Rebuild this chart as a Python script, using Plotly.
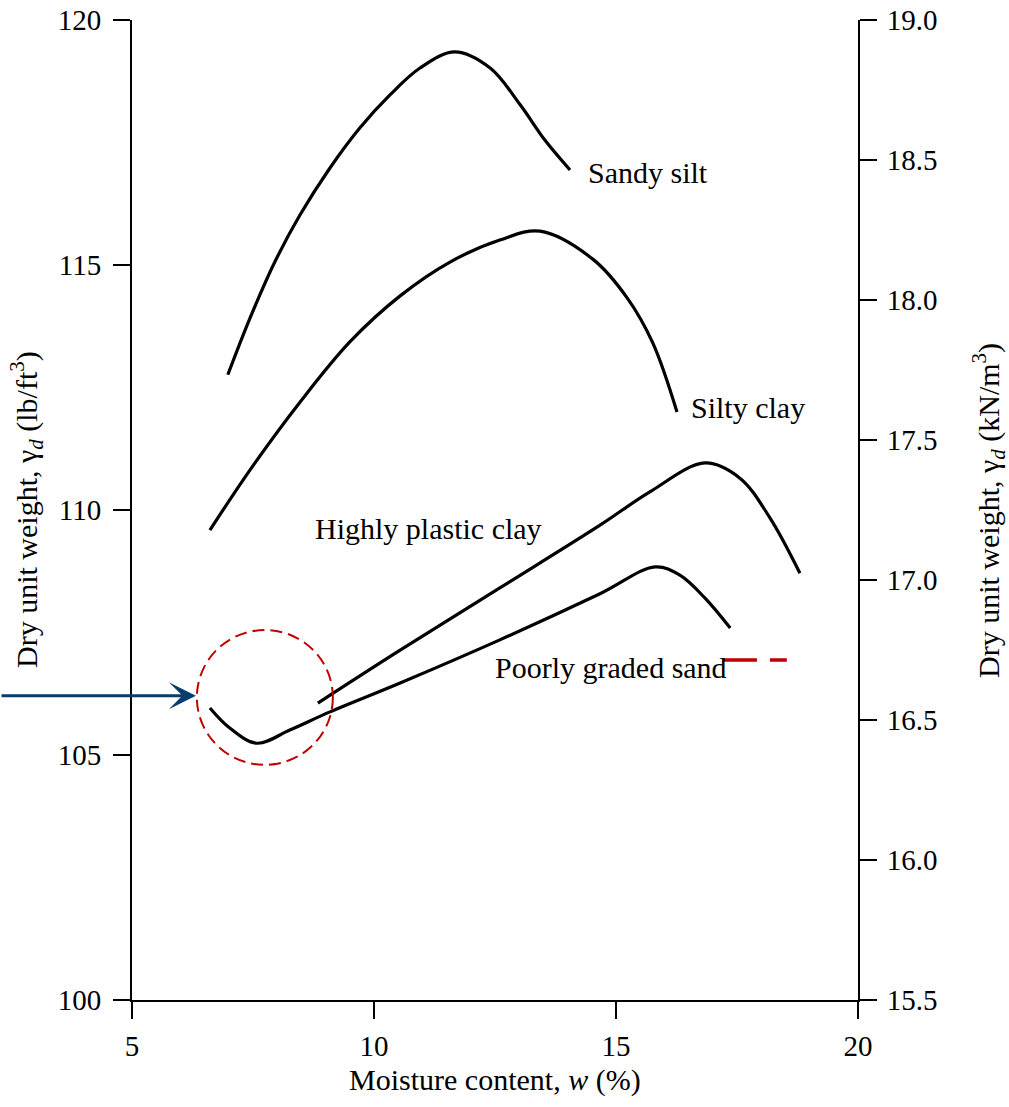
import plotly.graph_objects as go

# ---- Data ----
sandy_silt_w = [6.98, 7.44, 7.95, 8.47, 9.09, 9.71, 10.33, 10.95, 11.67, 12.40, 13.02, 13.53, 14.05]
sandy_silt_g = [112.76, 113.92, 115.06, 116.02, 116.98, 117.80, 118.47, 119.02, 119.35, 119.02, 118.27, 117.55, 116.94]

silty_clay_w = [6.61, 7.44, 8.47, 9.50, 10.54, 11.57, 12.60, 13.43, 14.52, 15.23, 15.76, 16.26]
silty_clay_g = [109.59, 110.82, 112.20, 113.43, 114.37, 115.06, 115.51, 115.69, 115.12, 114.33, 113.41, 112.00]

hp_clay_w = [8.84, 10.54, 12.60, 14.67, 15.70, 16.84, 17.56, 18.18, 18.80]
hp_clay_g = [106.06, 107.14, 108.41, 109.69, 110.37, 110.96, 110.65, 109.84, 108.71]

pg_sand_w = [6.61, 7.02, 7.58, 8.26, 9.09, 10.54, 12.60, 14.67, 15.81, 16.32, 16.84, 17.36]
pg_sand_g = [105.96, 105.55, 105.24, 105.51, 105.88, 106.47, 107.35, 108.29, 108.84, 108.67, 108.20, 107.59]

labels = ["Sandy silt", "Silty clay", "Highly plastic clay", "Poorly graded sand"]
label_w = [14.38, 16.50, 8.74, 12.46]
label_g = [116.88, 112.10, 109.63, 106.78]

x_ticks = [5, 10, 15, 20]
y_ticks = [100, 105, 110, 115, 120]
y2_ticks = [15.5, 16.0, 16.5, 17.0, 17.5, 18.0, 18.5, 19.0]

# highlight circle (data coords) and red dash mark
circle_w = [6.34, 9.15]
circle_g = [104.80, 107.55]
mark_w = [17.21, 18.53]
mark_g = [106.94, 106.94]
arrow_tip = (6.32, 106.21)

FONT = "Liberation Serif"
BLACK = "#000000"
RED = "#c00000"
NAVY = "#073d6d"

fig = go.Figure()

for w, g in [(sandy_silt_w, sandy_silt_g), (silty_clay_w, silty_clay_g),
             (hp_clay_w, hp_clay_g), (pg_sand_w, pg_sand_g)]:
    fig.add_trace(go.Scatter(x=w, y=g, mode="lines",
                             line=dict(color=BLACK, width=3.2, shape="spline", smoothing=1.0),
                             showlegend=False, hoverinfo="skip"))

fig.add_trace(go.Scatter(x=mark_w, y=mark_g, mode="lines",
                         line=dict(color=RED, width=3.5, dash="34px,13px"),
                         showlegend=False, hoverinfo="skip"))

# invisible trace to anchor the right axis
fig.add_trace(go.Scatter(x=[x_ticks[0]], y=[y2_ticks[0]], yaxis="y2", mode="markers",
                         marker=dict(opacity=0), showlegend=False, hoverinfo="skip"))

fig.add_shape(type="circle", xref="x", yref="y",
              x0=circle_w[0], x1=circle_w[1], y0=circle_g[0], y1=circle_g[1],
              line=dict(color=RED, width=2, dash="12px,6px"))

for t, w, g in zip(labels, label_w, label_g):
    fig.add_annotation(x=w, y=g, text=t, showarrow=False, xanchor="left", yanchor="middle",
                       font=dict(family=FONT, size=30, color=BLACK))

fig.add_annotation(x=arrow_tip[0], y=arrow_tip[1], text="", showarrow=True,
                   ax=-196, ay=0, arrowhead=3, arrowsize=1.5, arrowwidth=3,
                   arrowcolor=NAVY, standoff=0)

# axis titles
fig.add_annotation(xref="paper", yref="paper", x=0.5, y=-0.0816, yanchor="middle",
                   text="Moisture content, <i>w</i> (%)", showarrow=False,
                   font=dict(family=FONT, size=30, color=BLACK))
fig.add_annotation(xref="paper", yref="paper", x=-0.146, xanchor="center", y=0.5,
                   text="Dry unit weight, γ<sub><i>d</i></sub> (lb/ft<sup>3</sup>)",
                   textangle=-90, showarrow=False,
                   font=dict(family=FONT, size=30, color=BLACK))
fig.add_annotation(xref="paper", yref="paper", x=1.179, xanchor="center", y=0.5,
                   text="Dry unit weight, γ<sub><i>d</i></sub> (kN/m<sup>3</sup>)",
                   textangle=-90, showarrow=False,
                   font=dict(family=FONT, size=30, color=BLACK))

axis_common = dict(showgrid=False, zeroline=False, showline=True, linecolor=BLACK, linewidth=2,
                   ticks="outside", ticklen=17, tickwidth=2, tickcolor=BLACK, automargin=False,
                   tickfont=dict(family=FONT, size=29, color=BLACK))

fig.update_layout(
    width=1009, height=1107,
    margin=dict(l=132, r=151, t=20, b=107),
    paper_bgcolor="white", plot_bgcolor="white",
    xaxis=dict(range=[5, 20], tickvals=x_ticks, ticklabelstandoff=2, **axis_common),
    yaxis=dict(range=[100, 120], tickvals=y_ticks, ticklabelstandoff=6, **axis_common),
    yaxis2=dict(range=[15.5, 19.0], tickvals=y2_ticks, tickformat=".1f", ticklabelstandoff=4,
                overlaying="y", side="right", **axis_common),
)

fig.write_html("out.html")
